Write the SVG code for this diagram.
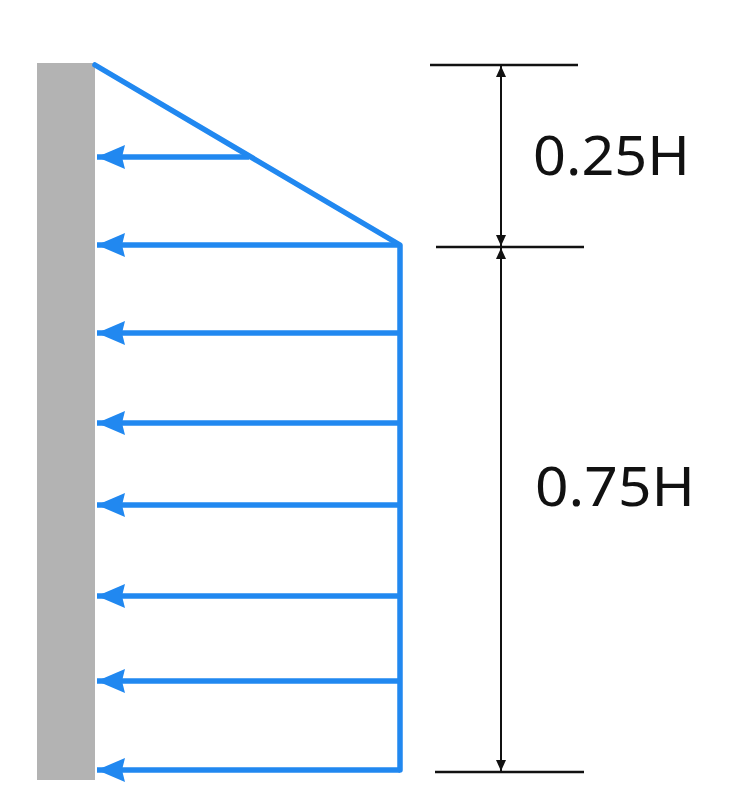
<svg xmlns="http://www.w3.org/2000/svg" width="749" height="811" viewBox="0 0 749 811">
<style>
.load{stroke:#2188f0;stroke-width:5.5;fill:none;stroke-linecap:round;stroke-linejoin:round}
.arr{stroke:#2188f0;stroke-width:5.5;fill:none;marker-end:url(#ba)}
.dim{stroke:#111;stroke-width:2.5;fill:none}
.dimv{stroke:#111;stroke-width:2;fill:none;marker-start:url(#ka);marker-end:url(#ka)}
.lbl{font-family:"Noto Sans","Liberation Sans",sans-serif;font-size:54px;fill:#111}
</style>
<defs>
<marker id="ba" markerUnits="userSpaceOnUse" markerWidth="34" markerHeight="28" refX="31" refY="14" orient="auto">
<path d="M3,2 L31,14 L3,26 L6,14 Z" fill="#2188f0"/>
</marker>
<marker id="ka" markerUnits="userSpaceOnUse" markerWidth="12" markerHeight="12" refX="11" refY="6" orient="auto-start-reverse">
<path d="M0,1 L11,6 L0,11 Z" fill="#111"/>
</marker>
</defs>
<g id="wall"><rect x="37" y="63" width="58" height="717" fill="#b3b3b3"/></g>
<g id="connectors">
<path class="load" d="M95,65 L400,245 L400,770"/>
<line class="arr" x1="249" y1="157" x2="97" y2="157"/>
<line class="arr" x1="400" y1="245" x2="97" y2="245"/>
<line class="arr" x1="400" y1="333" x2="97" y2="333"/>
<line class="arr" x1="400" y1="423" x2="97" y2="423"/>
<line class="arr" x1="400" y1="505" x2="97" y2="505"/>
<line class="arr" x1="400" y1="596" x2="97" y2="596"/>
<line class="arr" x1="400" y1="681" x2="97" y2="681"/>
<line class="arr" x1="400" y1="770" x2="97" y2="770"/>
</g>
<g id="dim-top">
<line class="dim" x1="430" y1="65" x2="578" y2="65"/>
<line class="dim" x1="436" y1="247" x2="584" y2="247"/>
<line class="dimv" x1="501" y1="66" x2="501" y2="246"/>
<text class="lbl" x="533" y="175" textLength="157" lengthAdjust="spacingAndGlyphs">0.25H</text>
</g>
<g id="dim-bottom">
<line class="dim" x1="435" y1="772" x2="584" y2="772"/>
<line class="dimv" x1="501" y1="248" x2="501" y2="771"/>
<text class="lbl" x="535" y="506" textLength="160" lengthAdjust="spacingAndGlyphs">0.75H</text>
</g>
</svg>
